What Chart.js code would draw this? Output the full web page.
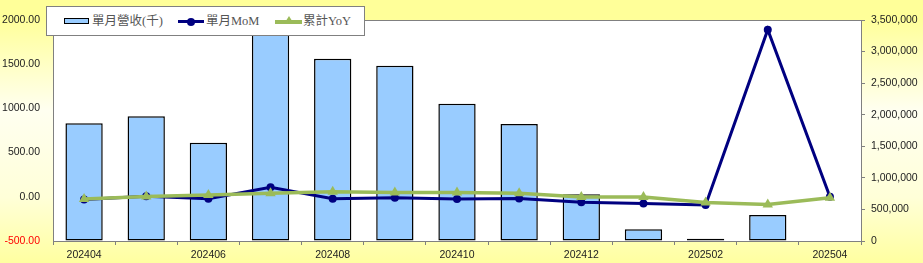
<!DOCTYPE html>
<html>
<head>
<meta charset="utf-8">
<script src="https://cdn.jsdelivr.net/npm/chart.js@4/dist/chart.umd.min.js"></script>
<style>
    html, body { margin: 0; padding: 0; }
    body {
        width: 923px; height: 263px; overflow: hidden; position: relative;
        background: linear-gradient(to bottom, #ffff99 0%, #ffff99 7%, #fffff0 42%, #ffffd8 75%, #ffffa0 100%);
    }
    #wrap { position: absolute; left: 0; top: 0; width: 923px; height: 263px; }
    .legend {
        position: absolute; left: 46px; top: 6px; width: 317px; height: 28px;
        background: #fff; border: 1px solid #808080;
        font-family: "Liberation Serif", "Noto Sans CJK TC", serif; font-size: 12.5px; color: #555;
    }
    .legend .item { position: absolute; top: 0; height: 28px; line-height: 28px; white-space: nowrap; }
    .legend .sw { position: absolute; }
    .legend .txt { position: absolute; top: 0; }
</style>
</head>
<body>
<div id="wrap"><canvas id="chart" width="923" height="263"></canvas></div>
<div class="legend" id="legend"></div>
<script>
const months = ['202404', '202405', '202406', '202407', '202408', '202409', '202410',
    '202411', '202412', '202501', '202502', '202503', '202504'];
// 單月營收(千), right axis
const revenue = [1864000, 1975000, 1557000, 3700000, 2887000, 2777000, 2175000,
    1853000, 739000, 185000, 36000, 412000, null];
// 單月MoM (%), left axis
const mom = [-30, 6, -21, 108, -22, -10, -25, -18, -62, -76, -93, 1890, 0];
// 累計YoY (%), left axis
const yoy = [-26, 3, 19, 41, 56, 48, 48, 41, -3, -3, -64, -86, -11];

const seriesNames = ['單月營收(千)', '單月MoM', '累計YoY'];
const leftTicks = [-500, 0, 500, 1000, 1500, 2000];
const rightMax = 3500000;

const tickFont = { family: '"Liberation Sans", Arial, sans-serif', size: 10.5 };
const tickColor = '#222';

// white plot area with grey frame
const plotFrame = {
    id: 'plotFrame',
    beforeDraw(chart) {
        const { ctx, chartArea: a } = chart;
        ctx.save();
        ctx.fillStyle = '#ffffff';
        ctx.fillRect(a.left, a.top, a.right - a.left, a.bottom - a.top);
        ctx.restore();
    },
    beforeDatasetsDraw(chart) {
        const { ctx, chartArea: a } = chart;
        ctx.save();
        ctx.strokeStyle = '#808080';
        ctx.lineWidth = 1;
        ctx.strokeRect(Math.round(a.left) + 0.5, Math.round(a.top) + 0.5,
            Math.round(a.right - a.left), Math.round(a.bottom - a.top));
        ctx.restore();
    }
};

new Chart(document.getElementById('chart').getContext('2d'), {
    data: {
        labels: months,
        datasets: [
            {
                type: 'line', label: seriesNames[2], data: yoy, yAxisID: 'yL', order: 1,
                borderColor: '#9bbb59', backgroundColor: '#9bbb59', borderWidth: 3.5,
                pointStyle: 'triangle', pointRadius: 6, pointBorderWidth: 0, tension: 0,
            },
            {
                type: 'line', label: seriesNames[1], data: mom, yAxisID: 'yL', order: 2,
                borderColor: '#000080', backgroundColor: '#000080', borderWidth: 3,
                pointStyle: 'circle', pointRadius: 4, pointBorderWidth: 0, tension: 0,
            },
            {
                type: 'bar', label: seriesNames[0], data: revenue, yAxisID: 'yR', order: 3,
                backgroundColor: '#99ccff', borderColor: '#000000', borderWidth: 1.5,
                borderSkipped: false,
                barPercentage: 0.6, categoryPercentage: 1,
            },
        ],
    },
    options: {
        responsive: false,
        animation: false,
        layout: { padding: { top: 20, left: 0, right: 0, bottom: 0 } },
        plugins: { legend: { display: false }, tooltip: { enabled: false } },
        scales: {
            x: {
                offset: true,
                grid: { offset: true, drawOnChartArea: false, drawTicks: true, tickLength: 4, color: '#808080' },
                border: { display: false },
                ticks: {
                    autoSkip: false, maxRotation: 0, padding: 4, font: tickFont, color: tickColor,
                    callback: (v, i) => (i % 2 === 0 ? months[i] : ''),
                },
                afterFit: s => { s.height = 22; },
            },
            yL: {
                position: 'left', min: -500, max: 2000,
                grid: { drawOnChartArea: false, drawTicks: false },
                border: { display: false },
                afterBuildTicks: s => { s.ticks = leftTicks.map(v => ({ value: v })); },
                ticks: {
                    padding: 13, font: tickFont,
                    color: c => (c.tick && c.tick.value < 0 ? '#ff0000' : tickColor),
                    callback: v => Number(v).toFixed(2),
                },
                afterFit: s => { s.width = 53; },
            },
            yR: {
                position: 'right', min: 0, max: rightMax,
                grid: { drawOnChartArea: false, drawTicks: true, tickLength: 4, color: '#808080' },
                border: { display: false },
                ticks: {
                    stepSize: 500000, padding: 6, font: tickFont, color: tickColor,
                    callback: v => Number(v).toLocaleString('en-US'),
                },
                afterFit: s => { s.width = 62; },
            },
        },
    },
    plugins: [plotFrame],
});

// legend box drawn over the top-left of the plot
const legendEl = document.getElementById('legend');
const legendItems = [
    { name: seriesNames[0], x: 17, kind: 'bar' },
    { name: seriesNames[1], x: 131, kind: 'mom' },
    { name: seriesNames[2], x: 228, kind: 'yoy' },
];
legendItems.forEach(it => {
    const item = document.createElement('div');
    item.className = 'item';
    item.style.left = it.x + 'px';
    let sw = '';
    if (it.kind === 'bar') {
        sw = '<div class="sw" style="left:0;top:11px;width:23px;height:4px;background:#99ccff;border:1.5px solid #000"></div>';
    } else if (it.kind === 'mom') {
        sw = '<div class="sw" style="left:0;top:13px;width:26px;height:3px;background:#000080"></div>' +
             '<div class="sw" style="left:9px;top:10.5px;width:8px;height:8px;border-radius:50%;background:#000080"></div>';
    } else {
        sw = '<div class="sw" style="left:0;top:13px;width:27px;height:3.5px;background:#9bbb59"></div>' +
             '<div class="sw" style="left:9px;top:9px;width:0;height:0;border-left:5px solid transparent;border-right:5px solid transparent;border-bottom:8px solid #9bbb59"></div>';
    }
    item.innerHTML = sw + '<span class="txt" style="left:28px">' + it.name + '</span>';
    legendEl.appendChild(item);
});
</script>
</body>
</html>
